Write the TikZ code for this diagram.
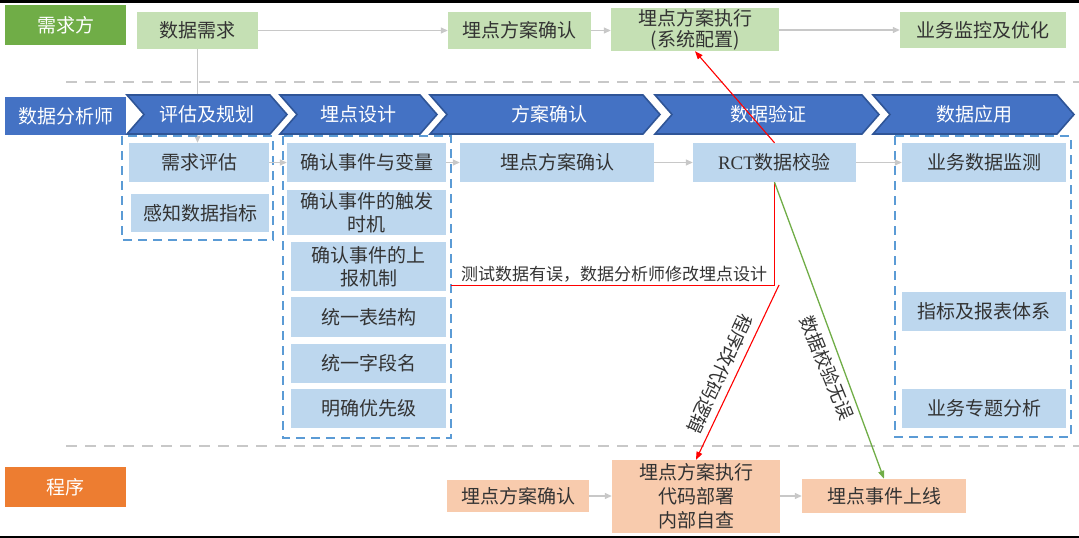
\documentclass[tikz,border=0pt]{standalone}
\usepackage{fontspec}
\setmainfont{Noto Sans CJK SC}
\newfontfamily\tnr{Liberation Serif}
\usetikzlibrary{arrows.meta}
\definecolor{dgreen}{HTML}{70AD47}
\definecolor{lgreen}{HTML}{C5E0B4}
\definecolor{dblue}{HTML}{4472C4}
\definecolor{bblue}{HTML}{2F5597}
\definecolor{lblue}{HTML}{BDD7EE}
\definecolor{dorange}{HTML}{ED7D31}
\definecolor{lorange}{HTML}{F8CBAD}
\definecolor{dashblue}{HTML}{5B9BD5}
\definecolor{sepgray}{HTML}{C8C8C8}
\definecolor{arrgray}{HTML}{C8C8C8}
\definecolor{txt}{HTML}{333333}
\definecolor{rline}{HTML}{FF0000}
\definecolor{gline}{HTML}{70AD47}
\newcommand{\mychev}[5]{% L, R, text x, name, text
  \draw[chev] (#1,95) -- (#2,95) -- ({#2+17},114.5) -- (#2,134) -- (#1,134) -- ({#1+17},114.5) -- cycle;
  \node[chevtxt] (#4) at (#3,114.5) {#5};
}
\begin{document}
\begin{tikzpicture}[x=1pt,y=-1pt,
  tb/.style={inner sep=0pt, align=center, text=txt, font=\fontsize{19}{23}\selectfont},
  wh/.style 2 args={minimum width=#1pt, minimum height=#2pt},
  role/.style={tb, text=white},
  gbox/.style={tb, fill=lgreen},
  bbox/.style={tb, fill=lblue},
  obox/.style={tb, fill=lorange},
  chev/.style={fill=dblue, draw=bblue, line width=1.6pt, line join=miter},
  chevtxt/.style={tb, text=white},
  grp/.style={draw=dashblue, line width=1.8pt, dash pattern=on 9pt off 6pt},
  sep/.style={draw=sepgray, line width=1.4pt, dash pattern=on 11pt off 8pt},
  garr/.style={draw=arrgray, line width=1.3pt, -{Triangle[length=7pt,width=6pt]}},
  rarr/.style={draw=rline, line width=1.1pt, -{Triangle[length=8pt,width=6pt]}},
  rln/.style={draw=rline, line width=1pt},
  garrow/.style={draw=gline, line width=1.3pt, -{Triangle[length=8pt,width=6pt]}},
  note/.style={inner sep=0pt, text=txt, font=\fontsize{17}{20}\selectfont},
  rnote/.style={inner sep=0pt, text=txt, font=\fontsize{18.5}{20}\selectfont}
]
\useasboundingbox (0,0) rectangle (1079,538);
\fill[black] (0,0) rectangle (1079,3);
\fill[black] (0,536) rectangle (1079,538);

% separators
\coordinate (s1a) at (66,82);
\coordinate (s1b) at (1079,82);
\coordinate (s2a) at (66,446);
\coordinate (s2b) at (1079,446);
\draw[sep] (s1a) -- (s1b);
\draw[sep] (s2a) -- (s2b);

% top row
\node[role, fill=dgreen, wh={121}{40}] (rq) at (65.5,25) {需求方};
\node[gbox, wh={121}{37}] (sj) at (197.5,30.5) {数据需求};
\node[gbox, wh={143}{37}] (tconf) at (519.5,30.5) {埋点方案确认};
\node[gbox, wh={168}{43}, font=\fontsize{19}{21}\selectfont] (exec1) at (695,29.5) {埋点方案执行\\(系统配置)};
\node[gbox, wh={166}{36}] (mon) at (983,30) {业务监控及优化};

% analyst row boxes
\node[bbox, wh={140}{39}] (reval) at (199,162.5) {需求评估};
\node[bbox, wh={138}{38}] (perc) at (200,213) {感知数据指标};

\draw[garr] (sj.south) -- (sj.south |- reval.north);

\node[role, fill=dblue, wh={121}{38}] (ana) at (65.5,116) {数据分析师};
\mychev{127}{270}{206.5}{c1}{评估及规划}
\mychev{280}{420}{358}{c2}{埋点设计}
\mychev{430}{643}{549}{c3}{方案确认}
\mychev{655}{862}{768}{c4}{数据验证}
\mychev{873}{1057}{974}{c5}{数据应用}

\node[bbox, wh={159}{39}] (evt) at (366.5,162.5) {确认事件与变量};
\node[bbox, wh={159}{45}] (trig) at (366.5,212.5) {确认事件的触发\\时机};
\node[bbox, wh={155}{49}] (rep) at (368.5,266.5) {确认事件的上\\报机制};
\node[bbox, wh={155}{40}] (tbl) at (368.5,317) {统一表结构};
\node[bbox, wh={155}{39}] (fld) at (368.5,363.5) {统一字段名};
\node[bbox, wh={155}{39}] (pri) at (368.5,408.5) {明确优先级};
\node[bbox, wh={194}{39}] (mconf) at (557,162.5) {埋点方案确认};
\node[bbox, wh={163}{39}] (rct) at (774.5,162.5) {{\tnr RCT}数据校验};
\node[bbox, wh={164}{39}] (bmon) at (984,162.5) {业务数据监测};
\node[bbox, wh={164}{39}] (kpi) at (984,311.5) {指标及报表体系};
\node[bbox, wh={164}{39}] (topic) at (984,408.5) {业务专题分析};

% dashed groups
\draw[grp] (122,136) rectangle (273,240);
\coordinate (gbtl) at (283,136);
\coordinate (gbbr) at (451,438);
\draw[grp] (gbtl) rectangle (gbbr);
\draw[grp] (895,136) rectangle (1071,437);

% bottom row
\node[role, fill=dorange, wh={121}{40}] (prog) at (65.5,487) {程序};
\node[obox, wh={142}{32}] (bconf) at (518,496) {埋点方案确认};
\node[obox, wh={168}{73}, font=\fontsize{19}{24}\selectfont] (exec2) at (696,496.5) {埋点方案执行\\代码部署\\内部自查};
\node[obox, wh={164}{34}] (online) at (884,496) {埋点事件上线};

% gray flow arrows
\draw[garr] (sj.east) -- (tconf.west);
\draw[garr] (tconf.east) -- (tconf.east -| exec1.west);
\draw[garr] (exec1.east |- mon.west) -- (mon.west);
\draw[garr] (reval.east) -- (evt.west);
\draw[garr] (evt.east) -- (mconf.west);
\draw[garr] (mconf.east) -- (rct.west);
\draw[garr] (rct.east) -- (bmon.west);
\draw[garr] (bconf.east) -- (bconf.east -| exec2.west);
\draw[garr] (exec2.east |- online.west) -- (online.west);

% red feedback
\coordinate (rc) at (774.5,285);
\coordinate (rs) at (779,285);
\draw[rln] (rct.south) -- (rc) -- (rc -| gbbr);
\node[note, anchor=south] (fbtxt) at (614,283) {测试数据有误，数据分析师修改埋点设计};
\draw[rarr] (rct.north) -- (exec1.south);
\draw[rarr] (rs) -- (exec2.north);
\node[rnote, rotate=-115] (codetxt) at (720,374) {程序改代码逻辑};

% green
\draw[garrow] (rct.south) -- (online.north);
\node[rnote, rotate=-68] (oktxt) at (827,368) {数据校验无误};
\end{tikzpicture}
\end{document}
